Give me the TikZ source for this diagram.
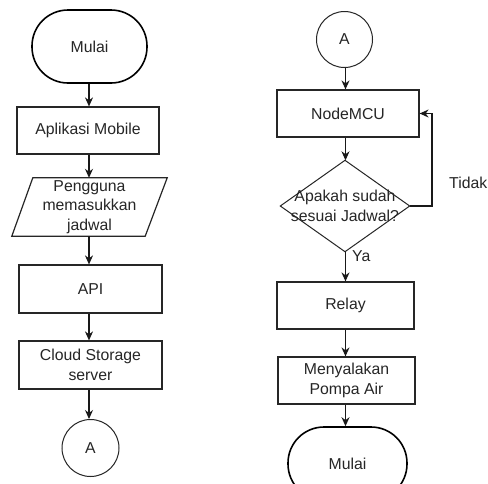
\documentclass[tikz,border=0pt]{standalone}
\usepackage{fontspec}
\setmainfont{Liberation Sans}
\usetikzlibrary{arrows.meta,shapes.geometric,calc}
\begin{document}
\begin{tikzpicture}[x=1pt,y=-1pt,
  every node/.style={font=\fontsize{15.8}{19.5}\selectfont, text=black!85, align=center, inner sep=0pt},
  box/.style={draw=black!85, line width=1.2pt, rectangle},
  term/.style={draw=black, line width=1.6pt, rectangle, rounded corners=36pt},
  conn/.style={draw=black!85, line width=1pt, circle},
  ghost/.style={rectangle},
  arr/.style={draw=black!90, line width=1.1pt, -{Stealth[length=9pt,width=8pt]}}
]
\useasboundingbox (0,0) rectangle (488,483);
\fill[white] (0,0) rectangle (488,483);
\clip (0,0) rectangle (488,483);

% left column
\node[term, minimum width=115pt, minimum height=73pt] (m1) at (89.5,46.5) {Mulai};
\node[box, minimum width=142pt, minimum height=47pt] (app) at (88,130.5) {Aplikasi Mobile};
\node[ghost, minimum width=155pt, minimum height=58pt] (in) at (89.5,207) {Pengguna\\memasukkan\\jadwal};
\draw[draw=black!85, line width=1.2pt] ($(in.north west)+(21,0)$) -- (in.north east) -- ($(in.south east)+(-22,0)$) -- (in.south west) -- cycle;
\node[box, minimum width=143pt, minimum height=48pt] (api) at (90.5,289) {API};
\node[box, minimum width=143pt, minimum height=48pt] (cloud) at (90.5,365) {Cloud Storage\\server};
\node[conn, minimum size=57pt] (a1) at (90.5,448) {A};

\draw[arr] (m1.south -| 89,0) -- (app.north -| 89,0);
\draw[arr] (app.south -| 89,0) -- (in.north -| 89,0);
\draw[arr] (in.south -| 89,0) -- (api.north -| 89,0);
\draw[arr] (api.south -| 89,0) -- (cloud.north -| 89,0);
\draw[arr] (cloud.south -| 89,0) -- (a1.north -| 89,0);

% right column
\node[conn, minimum size=56pt] (a2) at (344.5,39.5) {A};
\node[box, minimum width=142pt, minimum height=47pt] (mcu) at (348,113.5) {NodeMCU};
\node[ghost, minimum width=129pt, minimum height=91pt] (d) at (345,206) {Apakah sudah\\sesuai Jadwal?};
\draw[draw=black!85, line width=1pt] (d.north) -- (d.east) -- (d.south) -- (d.west) -- cycle;
\node[box, minimum width=137pt, minimum height=47pt] (relay) at (345.5,305.5) {Relay};
\node[box, minimum width=137pt, minimum height=47pt] (pump) at (346.5,380.5) {Menyalakan\\Pompa Air};
\node[term, minimum width=119pt, minimum height=73pt] (m2) at (347.5,463.5) {Mulai};
\coordinate (lp) at (432,206);
\node[anchor=west] (tidak) at (449,183) {Tidak};
\node[anchor=west] (ya) at (352,256) {Ya};

\draw[arr] (a2.south -| 345.5,0) -- (mcu.north -| 345.5,0);
\draw[arr] (mcu.south -| 345.5,0) -- (d.north -| 345.5,0);
\draw[arr] (d.south -| 345.5,0) -- (relay.north -| 345.5,0);
\draw[arr] (relay.south -| 345.5,0) -- (pump.north -| 345.5,0);
\draw[arr] (pump.south -| 345.5,0) -- (m2.north -| 345.5,0);
\draw[arr] (d.east) -- (lp) |- (mcu.east);
\end{tikzpicture}
\end{document}
